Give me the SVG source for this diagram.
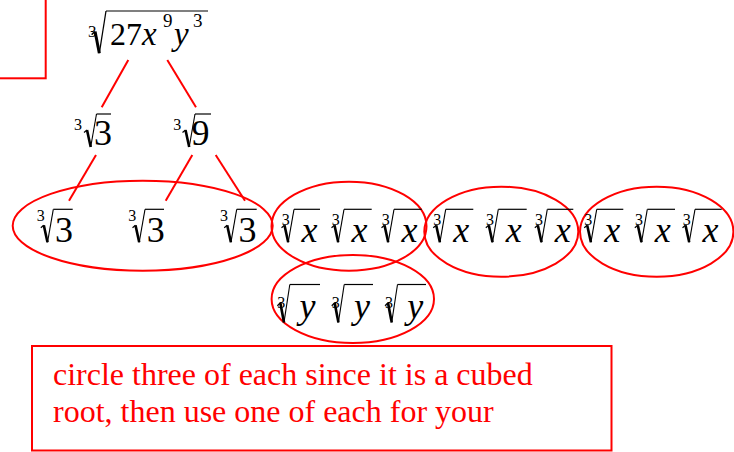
<svg xmlns="http://www.w3.org/2000/svg" xmlns:xlink="http://www.w3.org/1999/xlink" width="734" height="452" viewBox="0 0 734 452">
<style>
.note{font-family:'Liberation Serif',serif;font-size:32px;fill:#ff0000}
.k{fill:#000000}
.i{font-style:italic}
.idx{font-size:16px}
.big{font-size:36px}
.bar{stroke:#000;stroke-width:1.2}
.red{fill:none;stroke:#ff0000;stroke-width:2}
</style>
<defs>
<g id="rad" stroke="#000" fill="none">
<path d="M-12.5,18.5 L-9.5,16" stroke-width="1.2"/>
<path d="M-9.5,16 L-5.8,33" stroke-width="2.6"/>
<path d="M-5.8,33 L0,0" stroke-width="1.1"/>
</g>
</defs>
<rect width="734" height="452" fill="#fff"/>

<g id="corner-box"><rect class="red" x="-10" y="-10" width="55.7" height="88.3"/></g>

<g id="top">
<text class="note k" x="88" y="37" style="font-size:17px">3</text>
<use xlink:href="#rad" transform="translate(106,11) scale(1.15,1.28)"/>
<line class="bar" x1="106" y1="11" x2="208" y2="11"/>
<text class="note k" x="110" y="45" style="font-size:32px">27</text>
<text class="note k i" x="142" y="45" style="font-size:33px">x</text>
<text class="note k" x="163" y="27" style="font-size:19px">9</text>
<text class="note k i" x="174" y="45" style="font-size:33px">y</text>
<text class="note k" x="193" y="27" style="font-size:19px">3</text>
</g>

<g id="connectors" stroke="#ff0000" stroke-width="2" fill="none">
<line x1="128.3" y1="60" x2="101.7" y2="107.3"/>
<line x1="167.3" y1="60" x2="196" y2="107.3"/>
<line x1="96" y1="155" x2="69" y2="200.7"/>
<line x1="192.3" y1="155" x2="165.7" y2="200.7"/>
<line x1="215.7" y1="155" x2="245" y2="200.7"/>
</g>

<g id="cbrt3-a">
<text class="note k idx" x="74" y="130">3</text>
<use xlink:href="#rad" x="96.5" y="114"/>
<line class="bar" x1="96.5" y1="114" x2="111" y2="114"/>
<text class="note k big" x="94" y="145">3</text>
</g>
<g id="cbrt9">
<text class="note k idx" x="173.3" y="130">3</text>
<use xlink:href="#rad" x="195" y="114"/>
<line class="bar" x1="195" y1="114" x2="211" y2="114"/>
<text class="note k big" x="191.5" y="145">9</text>
</g>

<g id="threes">
<ellipse class="red" cx="142.7" cy="225.7" rx="130" ry="45"/>
<text class="note k idx" x="36.7" y="220.5">3</text>
<use xlink:href="#rad" x="53.3" y="209.3"/>
<line class="bar" x1="53.3" y1="209.3" x2="72.7" y2="209.3"/>
<text class="note k big" x="55" y="241.5">3</text>
<text class="note k idx" x="128.3" y="220.5">3</text>
<use xlink:href="#rad" x="145" y="209.3"/>
<line class="bar" x1="145" y1="209.3" x2="164" y2="209.3"/>
<text class="note k big" x="146.7" y="241.5">3</text>
<text class="note k idx" x="220" y="220.5">3</text>
<use xlink:href="#rad" x="236.7" y="209.3"/>
<line class="bar" x1="236.7" y1="209.3" x2="256.7" y2="209.3"/>
<text class="note k big" x="238.4" y="241.5">3</text>
</g>

<g id="x-group-1">
<ellipse class="red" cx="349" cy="226.2" rx="77.5" ry="44.5"/>
<text class="note k idx" x="281.7" y="225">3</text>
<use xlink:href="#rad" x="294" y="209.3"/>
<line class="bar" x1="294" y1="209.3" x2="320" y2="209.3"/>
<text class="note k big i" x="301.5" y="241.5">x</text>
<text class="note k idx" x="331.7" y="225">3</text>
<use xlink:href="#rad" x="344" y="209.3"/>
<line class="bar" x1="344" y1="209.3" x2="371.7" y2="209.3"/>
<text class="note k big i" x="351.5" y="241.5">x</text>
<text class="note k idx" x="381.7" y="225">3</text>
<use xlink:href="#rad" x="394" y="209.3"/>
<line class="bar" x1="394" y1="209.3" x2="421.7" y2="209.3"/>
<text class="note k big i" x="401.5" y="241.5">x</text>
</g>

<g id="x-group-2">
<ellipse class="red" cx="501.3" cy="231.7" rx="77" ry="45"/>
<text class="note k idx" x="433.3" y="225">3</text>
<use xlink:href="#rad" x="445.7" y="209.3"/>
<line class="bar" x1="445.7" y1="209.3" x2="473.3" y2="209.3"/>
<text class="note k big i" x="453.2" y="241.5">x</text>
<text class="note k idx" x="486" y="225">3</text>
<use xlink:href="#rad" x="498.3" y="209.3"/>
<line class="bar" x1="498.3" y1="209.3" x2="526.7" y2="209.3"/>
<text class="note k big i" x="505.8" y="241.5">x</text>
<text class="note k idx" x="535" y="225">3</text>
<use xlink:href="#rad" x="547.3" y="209.3"/>
<line class="bar" x1="547.3" y1="209.3" x2="573.3" y2="209.3"/>
<text class="note k big i" x="554.8" y="241.5">x</text>
</g>

<g id="x-group-3">
<ellipse class="red" cx="656.7" cy="231.7" rx="76.7" ry="45"/>
<text class="note k idx" x="584.3" y="225">3</text>
<use xlink:href="#rad" x="596.7" y="209.3"/>
<line class="bar" x1="596.7" y1="209.3" x2="623.3" y2="209.3"/>
<text class="note k big i" x="604.2" y="241.5">x</text>
<text class="note k idx" x="635" y="225">3</text>
<use xlink:href="#rad" x="647.3" y="209.3"/>
<line class="bar" x1="647.3" y1="209.3" x2="675" y2="209.3"/>
<text class="note k big i" x="654.8" y="241.5">x</text>
<text class="note k idx" x="682.7" y="225">3</text>
<use xlink:href="#rad" x="695" y="209.3"/>
<line class="bar" x1="695" y1="209.3" x2="721.7" y2="209.3"/>
<text class="note k big i" x="702.5" y="241.5">x</text>
</g>

<g id="y-group">
<ellipse class="red" cx="352.8" cy="299" rx="81.2" ry="44"/>
<text class="note k idx" x="277.3" y="308.3">3</text>
<use xlink:href="#rad" transform="translate(289.8,284.5) scale(1,1.15)"/>
<line class="bar" x1="289.8" y1="284.5" x2="320" y2="284.5"/>
<text class="note k big i" x="299.5" y="318">y</text>
<text class="note k idx" x="331.7" y="308.3">3</text>
<use xlink:href="#rad" transform="translate(344.2,284.5) scale(1,1.15)"/>
<line class="bar" x1="344.2" y1="284.5" x2="373" y2="284.5"/>
<text class="note k big i" x="353.9" y="318">y</text>
<text class="note k idx" x="385" y="308.3">3</text>
<use xlink:href="#rad" transform="translate(397.5,284.5) scale(1,1.15)"/>
<line class="bar" x1="397.5" y1="284.5" x2="426" y2="284.5"/>
<text class="note k big i" x="407.2" y="318">y</text>
</g>

<g id="note">
<rect class="red" x="32" y="346" width="579.5" height="104.5"/>
<text class="note" x="53" y="385">circle three of each since it is a cubed</text>
<text class="note" x="53" y="422">root, then use one of each for your</text>
</g>
</svg>
